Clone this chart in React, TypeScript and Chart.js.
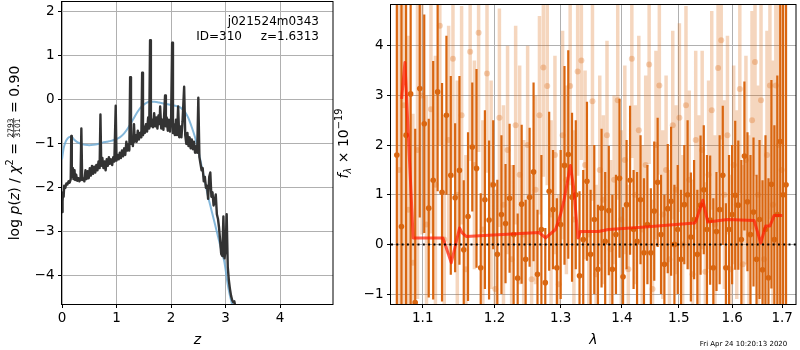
import React, { useEffect, useRef } from 'react';
import { Chart, registerables } from 'chart.js';
Chart.register(...registerables);

const FONT = '"DejaVu Sans", sans-serif';

// ---------------- left panel: log p(z) ----------------
const pzZ = [0.00,0.01,0.02,0.03,0.04,0.06,0.08,0.10,0.12,0.14,0.16,0.17,0.18,0.20,0.21,0.23,0.24,0.26,0.28,0.30,0.32,0.34,0.355,0.37,0.39,0.41,0.43,0.45,0.47,0.49,0.51,0.53,0.55,0.57,0.59,0.61,0.63,0.65,0.67,0.69,0.705,0.72,0.74,0.76,0.78,0.80,0.82,0.84,0.86,0.88,0.90,0.92,0.94,0.96,0.985,1.00,1.02,1.04,1.06,1.08,1.10,1.12,1.14,1.16,1.18,1.20,1.22,1.235,1.25,1.265,1.28,1.30,1.32,1.335,1.35,1.37,1.39,1.41,1.43,1.455,1.47,1.485,1.50,1.52,1.54,1.56,1.58,1.60,1.615,1.63,1.65,1.67,1.69,1.71,1.73,1.75,1.77,1.79,1.80,1.82,1.84,1.86,1.875,1.89,1.905,1.92,1.94,1.96,1.98,2.00,2.02,2.035,2.05,2.07,2.09,2.11,2.13,2.15,2.17,2.19,2.21,2.24,2.26,2.28,2.30,2.32,2.34,2.36,2.38,2.40,2.42,2.44,2.46,2.48,2.50,2.52,2.54,2.56,2.58,2.60,2.62,2.64,2.66,2.68,2.70,2.72,2.74,2.76,2.78,2.80,2.82,2.84,2.86,2.88,2.90,2.92,2.94,2.96,2.98,3.00,3.02,3.04,3.06,3.08,3.10,3.12,3.14,3.16,3.18];
const pzLog = [-2.55,-2.3,-2.1,-2.2,-1.95,-2.0,-1.9,-1.92,-1.85,-1.88,-1.8,-0.82,-1.75,-1.55,-1.8,-1.6,-1.82,-1.7,-1.84,-1.78,-1.85,-1.8,-0.65,-1.82,-1.78,-1.85,-1.6,-1.8,-1.62,-1.78,-1.55,-1.72,-1.5,-1.68,-1.52,-1.65,-1.48,-1.6,-1.4,-1.55,-0.33,-1.5,-1.32,-1.55,-1.4,-1.6,-1.35,-1.5,-1.3,-1.45,-1.35,-1.48,-1.3,-1.4,-0.13,-1.38,-1.25,-1.35,-1.2,-1.32,-1.15,-1.28,-1.1,-1.25,-0.95,-1.15,-1.0,-1.15,0.52,-1.0,-0.85,-1.05,-0.55,-0.95,-0.8,-0.95,-0.7,-0.9,-0.75,-0.85,0.62,-0.8,-0.6,-0.75,-0.55,-0.72,-0.4,-0.65,1.36,-0.6,-0.45,-0.62,-0.3,-0.6,-0.4,-0.65,-0.35,-0.55,-0.15,-0.65,-0.45,-0.68,-0.3,0.1,-0.6,-0.4,-0.7,-0.45,-0.72,-0.5,1.3,-0.75,-0.55,-0.8,-0.45,-0.8,-0.15,-0.85,-0.6,-0.85,-0.5,0.3,-0.8,-1.0,-0.75,-1.05,-0.85,-1.1,-0.9,-1.12,-0.95,-1.2,-1.05,-1.2,0.05,-1.3,-1.45,-1.6,-1.55,-1.85,-1.75,-2.0,-1.95,-2.25,-1.75,-1.65,-2.2,-2.1,-2.4,-2.3,-2.15,-2.6,-2.7,-2.9,-3.2,-3.5,-3.55,-2.65,-3.6,-3.4,-2.6,-3.8,-4.1,-4.3,-4.45,-4.55,-4.6,-4.58,-4.7];

const priorZ = [0.00,0.03,0.06,0.10,0.14,0.18,0.22,0.28,0.35,0.42,0.50,0.58,0.66,0.74,0.82,0.90,0.98,1.06,1.14,1.22,1.30,1.38,1.46,1.54,1.62,1.70,1.78,1.86,1.94,2.02,2.10,2.18,2.26,2.32,2.38,2.44,2.50,2.56,2.62,2.68,2.74,2.80,2.86,2.92,2.98,3.04,3.08,3.12,3.15];
const priorLog = [-1.35,-1.1,-0.97,-0.88,-0.84,-0.84,-0.9,-0.96,-1.0,-1.02,-1.03,-1.02,-1.0,-0.97,-0.95,-0.93,-0.9,-0.85,-0.76,-0.62,-0.45,-0.28,-0.15,-0.07,-0.04,-0.04,-0.06,-0.08,-0.1,-0.12,-0.14,-0.18,-0.28,-0.42,-0.62,-0.85,-1.15,-1.5,-1.85,-2.2,-2.5,-2.8,-3.1,-3.4,-3.7,-4.2,-4.45,-4.65,-4.8];

const leftXTicks = [0, 1, 2, 3, 4];
const leftYTicks = [-4, -3, -2, -1, 0, 1, 2];

// ---------------- right panel: spectrum ----------------
const darkLam = [1.066,1.072,1.078,1.084,1.090,1.096,1.102,1.108,1.114,1.120,
1.126,1.132,1.138,1.144,1.150,1.156,1.162,1.168,1.174,1.180,
1.186,1.192,1.198,1.204,1.210,1.216,1.222,1.228,1.234,1.240,
1.246,1.252,1.258,1.264,1.270,1.276,1.282,1.288,1.294,1.300,
1.306,1.312,1.318,1.324,1.330,1.336,1.342,1.348,1.354,1.360,
1.366,1.372,1.378,1.384,1.390,1.396,1.402,1.408,1.414,1.420,
1.426,1.432,1.438,1.444,1.450,1.456,1.462,1.468,1.474,1.480,
1.486,1.492,1.498,1.504,1.510,1.516,1.522,1.528,1.534,1.540,
1.546,1.552,1.558,1.564,1.570,1.576,1.582,1.588,1.594,1.600,
1.606,1.612,1.618,1.624,1.630,1.636,1.642,1.648,1.654,1.660,
1.666,1.672,1.678,1.684,1.690,1.696,1.702,1.708];
const darkFlux = [1.8,0.36,2.2,3.03,-1.17,3.14,2.43,0.73,1.29,3.07,
1.05,2.6,1.39,0.94,1.49,-0.11,0.56,1.96,1.53,-0.47,
0.9,0.49,1.2,-0.2,0.6,0.42,0.93,0.2,-0.68,0.81,
-0.3,0.95,1.46,-0.6,0.3,-0.77,1.07,0.7,-0.47,0.4,
1.59,1.81,0.95,1.0,-0.63,0.1,1.27,-0.2,0.5,-0.5,
0.73,0.06,0.68,-0.5,0.2,1.33,-0.65,0.8,1.29,0.3,
0.06,0.9,-0.17,0.4,-0.17,0.67,1.25,0.2,-0.4,0.72,
0.87,0.0,0.3,-0.3,0.8,1.0,0.15,0.5,-0.2,0.79,
1.1,0.3,0.49,-0.47,0.26,0.7,1.39,-0.47,0.3,0.6,
0.99,0.79,0.1,1.78,0.86,0.2,0.65,-0.3,0.5,-0.51,
0.3,-0.67,1.21,0.1,0.6,2.07,1.0,1.2];
const darkErr = [6,6,6,5,3.5,2.6,2.2,1.8,2.4,2.0,
2.2,1.6,2.0,1.5,1.9,1.4,1.7,1.3,2.0,1.5,
1.8,1.6,1.3,1.5,1.6,1.2,1.5,1.4,1.3,1.6,
1.2,1.4,1.8,1.3,1.5,1.1,1.6,1.2,1.4,1.5,
2.0,2.1,1.7,1.5,1.7,1.4,1.6,1.3,1.5,1.3,
1.6,1.4,1.3,1.5,1.2,1.6,1.4,1.3,1.5,1.2,
1.4,1.3,1.5,1.2,1.3,1.4,1.3,1.2,1.4,1.3,
1.5,1.2,1.3,1.4,1.2,1.5,1.3,1.2,1.3,1.4,
1.3,1.5,1.3,1.4,1.2,1.5,1.4,1.3,1.5,1.4,
1.5,1.3,1.6,1.5,1.4,1.6,1.5,1.7,1.6,1.8,
1.9,2.0,2.1,2.3,2.8,4,6,6];

const lightLam = [1.069,1.075,1.081,1.087,1.093,1.099,1.105,1.111,1.117,1.123,
1.129,1.135,1.141,1.147,1.153,1.159,1.165,1.171,1.177,1.183,
1.189,1.195,1.201,1.207,1.213,1.219,1.225,1.231,1.237,1.243,
1.249,1.255,1.261,1.267,1.273,1.279,1.285,1.291,1.297,1.303,
1.309,1.315,1.321,1.327,1.333,1.339,1.345,1.351,1.357,1.363,
1.369,1.375,1.381,1.387,1.393,1.399,1.405,1.411,1.417,1.423,
1.429,1.435,1.441,1.447,1.453,1.459,1.465,1.471,1.477,1.483,
1.489,1.495,1.501,1.507,1.513,1.519,1.525,1.531,1.537,1.543,
1.549,1.555,1.561,1.567,1.573,1.579,1.585,1.591,1.597,1.603,
1.609,1.615,1.621,1.627,1.633,1.639,1.645,1.651,1.657,1.663,
1.669,1.675,1.681,1.687,1.693,1.699];
const lightFlux = [1.5,2.8,0.7,-0.37,1.9,3.0,0.4,2.72,1.2,4.4,
0.1,2.1,3.74,1.0,2.6,-0.5,3.88,1.6,4.26,0.3,
3.44,1.2,-0.9,2.55,0.8,1.9,-0.3,2.4,1.4,0.2,
2.0,-0.7,1.1,2.6,3.56,3.19,0.6,1.8,-0.8,2.2,
1.3,3.19,0.5,3.48,3.7,1.6,0.2,2.88,-0.6,1.5,
0.9,2.2,-0.1,1.3,2.9,0.5,1.7,-0.5,3.74,1.0,
2.3,0.3,1.6,3.62,-0.9,2.0,3.2,0.6,1.5,-0.3,
2.4,1.1,2.55,0.0,2.8,1.3,-0.6,2.1,0.7,1.9,
-0.55,1.4,2.7,0.4,3.55,4.11,1.0,2.2,-0.5,1.6,
0.8,3.13,-0.4,1.7,0.2,2.5,3.67,1.0,2.9,-0.3,
1.8,3.2,0.8,3.2,2.0,1.5];
const lightErr = [5,4,3.5,3,3,2.8,2.6,2.5,2.6,2.4,
2.5,2.3,2.4,2.3,2.2,2.3,2.2,2.1,2.4,2.2,
2.0,2.1,2.0,2.2,2.0,2.1,1.9,2.0,2.2,1.9,
2.0,2.1,1.9,2.0,2.2,2.0,1.9,2.0,1.8,2.1,
1.9,2.0,1.8,2.1,2.0,1.9,1.8,2.0,1.8,1.9,
1.7,1.9,1.8,1.7,2.0,1.8,1.9,1.7,2.0,1.8,
1.9,1.7,1.8,2.0,1.8,1.9,1.8,1.7,1.9,1.8,
1.9,1.7,1.9,1.8,2.0,1.8,1.9,1.8,1.9,2.0,
1.8,1.9,2.0,1.8,2.1,2.0,1.9,2.0,1.9,2.0,
1.9,2.1,2.0,2.1,2.0,2.2,2.3,2.2,2.4,2.3,
2.5,2.7,2.9,3.2,3.6,4.5];

const modelLam = [1.0722,1.0765,1.0830,1.0873,1.1272,1.1387,1.1501,1.1538,1.1594,1.2663,1.2764,1.2919,1.2997,1.3048,1.3154,1.3207,1.3275,1.3313,1.3609,1.3774,1.4396,1.5288,1.5311,1.5442,1.5535,1.5914,1.6433,1.6564,1.6664,1.6750,1.6833,1.7002];
const modelFlux = [2.93,3.66,1.53,0.13,0.13,-0.37,0.33,0.23,0.16,0.24,0.13,0.3,0.6,0.86,1.59,1.13,0.13,0.26,0.26,0.3,0.35,0.43,0.46,0.89,0.45,0.5,0.48,0.03,0.37,0.37,0.58,0.58];

const rightXTicks = [1.1, 1.2, 1.3, 1.4, 1.5, 1.6, 1.7];
const rightYTicks = [-1, 0, 1, 2, 3, 4];

const DARK = 'rgb(217,102,16)';
const LIGHT_BAR = 'rgba(217,102,16,0.27)';
const LIGHT_PT = 'rgba(217,102,16,0.3)';

const fmtInt = (v: number) => (v < 0 ? '\u2212' + Math.abs(v) : String(v));

function axis(ticksArr: number[], fmt: (v: number) => string, isX: boolean, size: number, extra: any) {
  return {
    grid: { color: '#b0b0b0', lineWidth: 1, tickColor: '#000', tickLength: 4, tickWidth: 1, drawTicks: true },
    border: { display: false },
    ticks: { color: '#000', font: { family: FONT, size: 13.5 }, autoSkip: false, maxRotation: 0, padding: isX ? 2 : 3.5, callback: (v: any) => fmt(Number(v)) },
    afterBuildTicks: (s: any) => { s.ticks = ticksArr.map((v) => ({ value: v })); },
    afterFit: (s: any) => {
      if (isX) s.height = size; else s.width = size;
      s.paddingTop = 0; s.paddingBottom = 0; s.paddingLeft = 0; s.paddingRight = 0;
    },
    ...extra,
  };
}

const framePlugin = {
  id: 'frame',
  afterDatasetsDraw(chart: any) {
    const { ctx, chartArea: a } = chart;
    ctx.save();
    ctx.strokeStyle = '#000';
    ctx.lineWidth = 1;
    ctx.strokeRect(Math.round(a.left) - 0.5, Math.round(a.top) + 0.5, Math.round(a.right - a.left) + 0.5, Math.round(a.bottom - a.top));
    ctx.restore();
  },
};

type Seg = { t?: string; f: string; dy?: number; num?: string; den?: string };
function segW(ctx: CanvasRenderingContext2D, s: Seg) {
  ctx.font = s.f;
  if (s.num !== undefined) return Math.max(ctx.measureText(s.num).width, ctx.measureText(s.den || '').width) + 2;
  return ctx.measureText(s.t || '').width;
}
function drawSegs(ctx: CanvasRenderingContext2D, segs: Seg[], cx: number, cy: number, rotate: boolean) {
  ctx.save();
  ctx.translate(cx, cy);
  if (rotate) ctx.rotate(-Math.PI / 2);
  const ws = segs.map((s) => segW(ctx, s));
  const total = ws.reduce((a, b) => a + b, 0);
  let x = -total / 2;
  ctx.fillStyle = '#000';
  ctx.textBaseline = 'alphabetic';
  segs.forEach((s, i) => {
    ctx.font = s.f;
    if (s.num !== undefined) {
      const w = ws[i];
      ctx.textAlign = 'center';
      ctx.fillText(s.num, x + w / 2, -5.8);
      ctx.fillText(s.den || '', x + w / 2, 1.6);
      ctx.fillRect(x + 0.5, -5.1, w - 1, 0.7);
    } else {
      ctx.textAlign = 'left';
      ctx.fillText(s.t || '', x, s.dy || 0);
    }
    x += ws[i];
  });
  ctx.restore();
}

const R = `14px ${FONT}`;
const I = `italic 14px ${FONT}`;
const S = `9.8px ${FONT}`;
const SI = `italic 9.8px ${FONT}`;

const leftText = {
  id: 'leftText',
  afterDraw(chart: any) {
    const ctx = chart.ctx as CanvasRenderingContext2D;
    const a = chart.chartArea;
    ctx.save();
    ctx.fillStyle = '#000';
    ctx.font = `12px ${FONT}`;
    ctx.textAlign = 'right';
    ctx.textBaseline = 'alphabetic';
    ctx.fillText('j021524m0343', 319, 25);
    ctx.fillText('ID=310', 242, 39.5);
    ctx.fillText('z=1.6313', 319, 39.5);
    ctx.textAlign = 'center';
    ctx.font = I;
    ctx.fillText('z', (a.left + a.right) / 2, 343.5);
    ctx.restore();
    drawSegs(ctx, [
      { t: 'log', f: R }, { t: ' ', f: R }, { t: 'p', f: I }, { t: '(', f: R }, { t: 'z', f: I }, { t: ')', f: R },
      { t: ' / ', f: R }, { t: '\u03c7', f: I }, { t: '2', f: S, dy: -6 }, { t: ' = ', f: R },
      { num: '2793', den: '3101', f: `7.5px ${FONT}` }, { t: ' = 0.90', f: R },
    ], 18.5, 153, true);
  },
};

const rightText = {
  id: 'rightText',
  afterDraw(chart: any) {
    const ctx = chart.ctx as CanvasRenderingContext2D;
    const a = chart.chartArea;
    ctx.save();
    ctx.fillStyle = '#000';
    ctx.textBaseline = 'alphabetic';
    ctx.textAlign = 'center';
    ctx.font = I;
    ctx.fillText('\u03bb', (a.left + a.right) / 2, 343.5);
    ctx.font = `7px ${FONT}`;
    ctx.fillText('Fri Apr 24 10:20:13 2020', 409.5, 345.5);
    ctx.restore();
    drawSegs(ctx, [
      { t: 'f', f: I }, { t: '\u03bb', f: SI, dy: 3 }, { t: ' \u00d7 10', f: R }, { t: '\u221219', f: S, dy: -6 },
    ], 14, 143.5, true);
  },
};

function barData(lam: number[], f: number[], e: number[]) {
  const out: any[] = [];
  for (let i = 0; i < lam.length; i++) {
    out.push({ x: lam[i], y: f[i] - e[i] }, { x: lam[i], y: f[i] + e[i] }, { x: lam[i], y: null });
  }
  return out;
}
const pts = (xs: number[], ys: number[]) => xs.map((x, i) => ({ x, y: ys[i] }));

export default function App() {
  const lRef = useRef<HTMLCanvasElement>(null);
  const rRef = useRef<HTMLCanvasElement>(null);

  useEffect(() => {
    const common = {
      animation: false,
      responsive: false,
      devicePixelRatio: 1,
      events: [],
      plugins: { legend: { display: false }, tooltip: { enabled: false } },
      layout: { padding: { left: 0, right: 1, top: 1, bottom: 0 } },
    };
    const c1 = new Chart(lRef.current as HTMLCanvasElement, {
      type: 'line',
      data: {
        datasets: [
          { data: pts(pzZ, pzLog), borderColor: '#333333', borderWidth: 2.4, pointRadius: 0, borderJoinStyle: 'round', order: 0 },
          { data: pts(priorZ, priorLog), borderColor: 'rgba(110,170,212,0.85)', borderWidth: 2, pointRadius: 0, cubicInterpolationMode: 'monotone', order: 1 },
        ],
      },
      options: {
        ...common,
        scales: {
          x: axis(leftXTicks, fmtInt, true, 46, { type: 'linear', min: 0, max: 4.97 }),
          y: axis(leftYTicks, fmtInt, false, 62, { type: 'linear', min: -4.64, max: 2.25 }),
        },
      },
      plugins: [framePlugin, leftText],
    } as any);

    const c2 = new Chart(rRef.current as HTMLCanvasElement, {
      type: 'line',
      data: {
        datasets: [
          { data: [{ x: 1.0585, y: 0 }, { x: 1.7287, y: 0 }], borderColor: '#000', borderWidth: 2, borderDash: [2, 3.3], pointRadius: 0, order: 0 },
          { data: pts(modelLam, modelFlux), borderColor: 'rgba(255,25,0,0.7)', borderWidth: 3, pointRadius: 0, borderJoinStyle: 'round', order: 1 },
          { data: pts(darkLam, darkFlux), showLine: false, pointRadius: 2.8, pointBorderWidth: 0, pointBackgroundColor: DARK, order: 2 },
          { data: barData(darkLam, darkFlux, darkErr), borderColor: DARK, borderWidth: 2.2, borderCapStyle: 'butt', pointRadius: 0, spanGaps: false, order: 3 },
          { data: pts(lightLam, lightFlux), showLine: false, pointRadius: 3, pointBorderWidth: 0, pointBackgroundColor: LIGHT_PT, order: 4 },
          { data: barData(lightLam, lightFlux, lightErr), borderColor: LIGHT_BAR, borderWidth: 3.5, borderCapStyle: 'butt', pointRadius: 0, spanGaps: false, order: 5 },
        ],
      },
      options: {
        ...common,
        scales: {
          x: axis(rightXTicks, (v) => v.toFixed(1), true, 46, { type: 'logarithmic', min: 1.0585, max: 1.7287 }),
          y: axis(rightYTicks, fmtInt, false, 57, { type: 'linear', min: -1.2, max: 4.84 }),
        },
      },
      plugins: [framePlugin, rightText],
    } as any);

    return () => { c1.destroy(); c2.destroy(); };
  }, []);

  return (
    <div style={{ position: 'fixed', left: 0, top: 0, width: 800, height: 350, background: '#fff' }}>
      <canvas ref={lRef} width={334} height={350} style={{ position: 'absolute', left: 0, top: 0, width: 334, height: 350 }} />
      <canvas ref={rRef} width={466} height={350} style={{ position: 'absolute', left: 334, top: 0, width: 466, height: 350 }} />
    </div>
  );
}
